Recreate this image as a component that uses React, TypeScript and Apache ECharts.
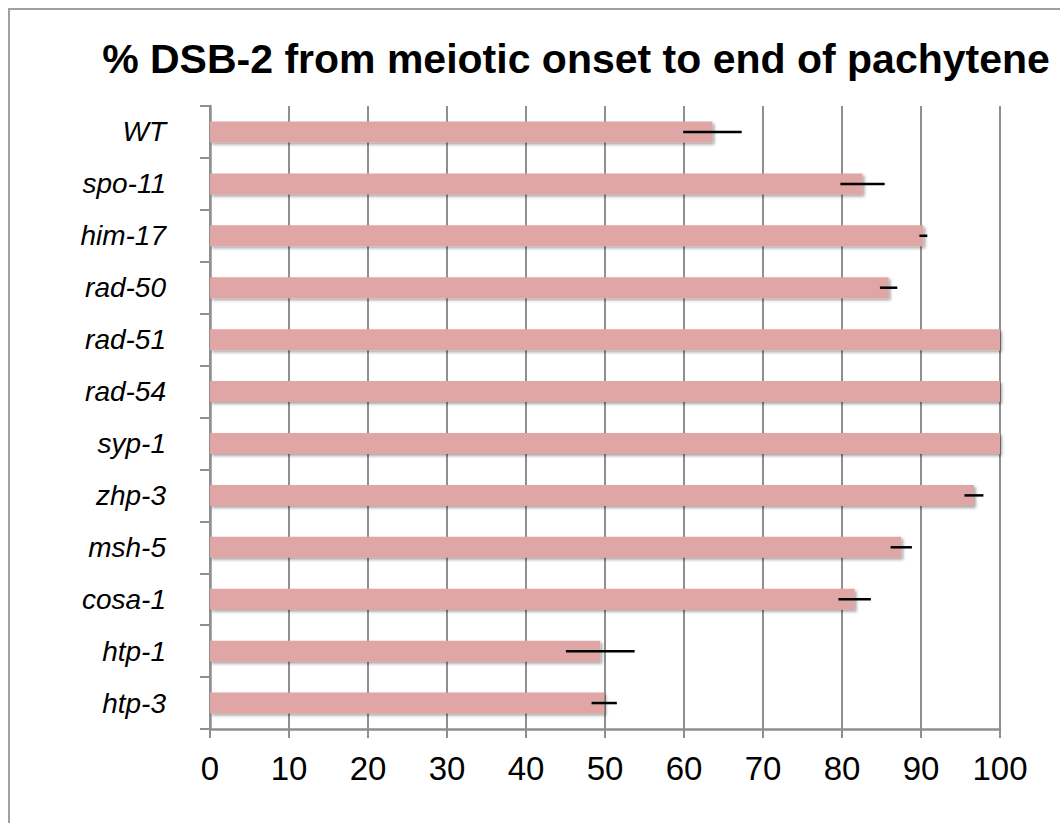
import React, { useEffect, useRef } from "react";
import * as echarts from "echarts";

const titleText = "% DSB-2 from meiotic onset to end of pachytene";
const categories = ["WT", "spo-11", "him-17", "rad-50", "rad-51", "rad-54", "syp-1", "zhp-3", "msh-5", "cosa-1", "htp-1", "htp-3"];
const values = [63.6, 82.6, 90.3, 85.9, 100, 100, 100, 96.7, 87.5, 81.6, 49.4, 49.9];
const errors = [3.7, 2.8, 0.5, 1.1, 0, 0, 0, 1.2, 1.35, 2.05, 4.35, 1.6];
const xTicks = { min: 0, max: 100, interval: 10 };

const FONT = '"Liberation Sans", Arial, Helvetica, sans-serif';
const GRID_GRAY = "#8f8f8f";

export default function App() {
  const ref = useRef<HTMLDivElement>(null);
  useEffect(() => {
    if (!ref.current) return;
    const chart = echarts.init(ref.current, undefined, { renderer: "svg" });
    const errData = categories.map((c, i) => [i, values[i], errors[i]]);
    chart.setOption({
      animation: false,
      backgroundColor: "#ffffff",
      title: {
        text: titleText,
        left: 571,
        top: 33,
        textAlign: "center",
        textStyle: { fontFamily: FONT, fontWeight: "bold", fontSize: 41, color: "#000" },
      },
      graphic: [
        {
          type: "rect",
          shape: { x: 9, y: 9, width: 1100, height: 900 },
          style: { fill: "none", stroke: "#a0a0a0", lineWidth: 2 },
          silent: true,
        },
      ],
      grid: { left: 210, right: 60, top: 106, bottom: 94, containLabel: false },
      xAxis: {
        type: "value",
        min: xTicks.min,
        max: xTicks.max,
        interval: xTicks.interval,
        axisLine: { show: true, lineStyle: { color: GRID_GRAY, width: 2.5 } },
        axisTick: { show: true, length: 9, lineStyle: { color: GRID_GRAY, width: 2 } },
        splitLine: { show: true, lineStyle: { color: GRID_GRAY, width: 2 } },
        axisLabel: { margin: 23, fontFamily: FONT, fontSize: 33, color: "#000" },
      },
      yAxis: {
        type: "category",
        data: categories,
        inverse: true,
        axisLine: { show: true, lineStyle: { color: GRID_GRAY, width: 2.5 } },
        axisTick: { show: true, length: 10, alignWithLabel: false, lineStyle: { color: GRID_GRAY, width: 2 } },
        splitLine: { show: false },
        axisLabel: { margin: 44, fontFamily: FONT, fontStyle: "italic", fontSize: 28, color: "#000" },
      },
      series: [
        {
          type: "bar",
          data: values,
          barWidth: 21,
          itemStyle: {
            color: "#e0a5a5",
            shadowColor: "rgba(0,0,0,0.35)",
            shadowBlur: 3,
            shadowOffsetX: 2,
            shadowOffsetY: 2,
          },
          z: 2,
        },
        {
          type: "custom",
          data: errData,
          encode: { x: 1, y: 0 },
          z: 5,
          renderItem: (params: any, api: any) => {
            const idx = api.value(0);
            const v = api.value(1);
            const e = api.value(2);
            if (!e) return null;
            const p1 = api.coord([v - e, idx]);
            const p2 = api.coord([v + e, idx]);
            return {
              type: "line",
              shape: { x1: p1[0], y1: p1[1], x2: p2[0], y2: p2[1] },
              style: { stroke: "#000", lineWidth: 2.5 },
            };
          },
        },
      ],
    });
    return () => chart.dispose();
  }, []);
  return (
    <div
      ref={ref}
      style={{ position: "fixed", left: 0, top: 0, width: 1060, height: 823 }}
    />
  );
}
